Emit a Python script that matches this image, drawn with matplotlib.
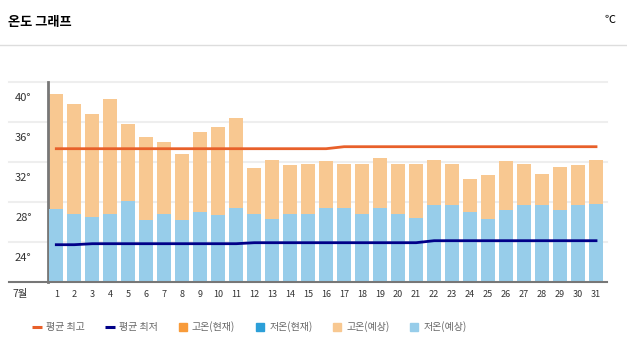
import matplotlib
matplotlib.use("Agg")
import matplotlib.pyplot as plt
from matplotlib.lines import Line2D
from matplotlib.transforms import ScaledTranslation

plt.rcParams['font.family'] = ['Noto Sans CJK KR', 'DejaVu Sans']

# July daily temperatures
days = list(range(1, 32))
high = [38.8, 37.8, 36.8, 38.3, 35.8, 34.5, 34.0, 32.8, 35.0, 35.5,
        36.4, 31.4, 32.2, 31.7, 31.8, 32.1, 31.8, 31.8, 32.4, 31.8,
        31.8, 32.2, 31.8, 30.3, 30.7, 32.1, 31.8, 30.8, 31.5, 31.7, 32.2]
low = [27.3, 26.8, 26.5, 26.8, 28.1, 26.2, 26.8, 26.2, 27.0, 26.7,
       27.4, 26.8, 26.3, 26.8, 26.8, 27.4, 27.4, 26.8, 27.4, 26.8,
       26.4, 27.7, 27.7, 27.0, 26.3, 27.2, 27.7, 27.7, 27.2, 27.7, 27.8]
avg_high = [33.3] * 16 + [33.5] * 15
avg_low = [23.7] * 2 + [23.8] * 9 + [23.9] * 10 + [24.1] * 10
yticks = [24, 28, 32, 36, 40]

c_high_fc = '#F8C891'
c_low_fc = '#97CDEA'
c_high_now = '#F89B3A'
c_low_now = '#2C9FD8'
c_avg_high = '#E8602A'
c_avg_low = '#000088'

W, H = 627, 350
fig = plt.figure(figsize=(W / 100, H / 100), dpi=100)
ax = fig.add_axes([48.3 / W, 1 - 281.7 / H, (607 - 48.3) / W, 200 / H])

ax.set_xlim(0.556, 31.61)
ax.set_ylim(20, 40)

# grid lines (reach left into the label area)
x0 = (9 - 48.3) / (607 - 48.3)
for v in yticks:
    ax.axhline(v, xmin=x0, xmax=1, color='#EEEEEE', lw=1.5, clip_on=False, zorder=0)

ax.bar(days, high, width=0.78, bottom=0, color=c_high_fc, zorder=2)
ax.bar(days, low, width=0.78, bottom=0, color=c_low_fc, zorder=3)
ax.plot(days, avg_high, color=c_avg_high, lw=2, zorder=4)
ax.plot(days, avg_low, color=c_avg_low, lw=2, zorder=4)

for s in ['top', 'right', 'bottom']:
    ax.spines[s].set_visible(False)
ax.spines['left'].set_color('#777777')
ax.spines['left'].set_linewidth(2)
ax.axhline(20, xmin=x0, xmax=1, color='#777777', lw=1.5, clip_on=False, zorder=5)

ax.set_yticks(yticks)
ax.set_yticklabels([f'{v}°' for v in yticks], fontsize=8, color='#333333')
ax.tick_params(axis='y', length=0, pad=12)
off = ScaledTranslation(0, -0.15, fig.dpi_scale_trans)
for lab in ax.get_yticklabels():
    lab.set_transform(lab.get_transform() + off)

ax.set_xticks(days)
ax.set_xticklabels([str(d) for d in days], fontsize=6.5, color='#333333')
ax.tick_params(axis='x', length=0, pad=6)
fig.text(20 / W, 1 - 294 / H, '7월', fontsize=7.5, color='#333333', ha='center', va='center')

# header
fig.text(8 / W, 1 - 22 / H, '온도 그래프', fontsize=9.5, fontweight='bold', ha='left', va='center')
fig.text(610 / W, 1 - 20 / H, '℃', fontsize=8, ha='center', va='center')
fig.add_artist(Line2D([0, 1], [1 - 45 / H, 1 - 45 / H], color='#DDDDDD', lw=1))

handles = [
    Line2D([], [], color=c_avg_high, marker='_', ls='none', markersize=7, markeredgewidth=2.2),
    Line2D([], [], color=c_avg_low, marker='_', ls='none', markersize=7, markeredgewidth=2.2),
    Line2D([], [], color=c_high_now, marker='s', ls='none', markersize=5.5),
    Line2D([], [], color=c_low_now, marker='s', ls='none', markersize=5.5),
    Line2D([], [], color=c_high_fc, marker='s', ls='none', markersize=5.5),
    Line2D([], [], color=c_low_fc, marker='s', ls='none', markersize=5.5),
]
labels = ['평균 최고', '평균 최저', '고온(현재)', '저온(현재)', '고온(예상)', '저온(예상)']
leg = fig.legend(handles, labels, loc='center left', bbox_to_anchor=(32 / W, 1 - 326.7 / H),
                 ncol=6, frameon=False, fontsize=7.2, handlelength=1, handletextpad=0.45,
                 columnspacing=1.95, borderaxespad=0, borderpad=0)
for t in leg.get_texts():
    t.set_color('#666666')

fig.savefig('out.png', dpi=100)
